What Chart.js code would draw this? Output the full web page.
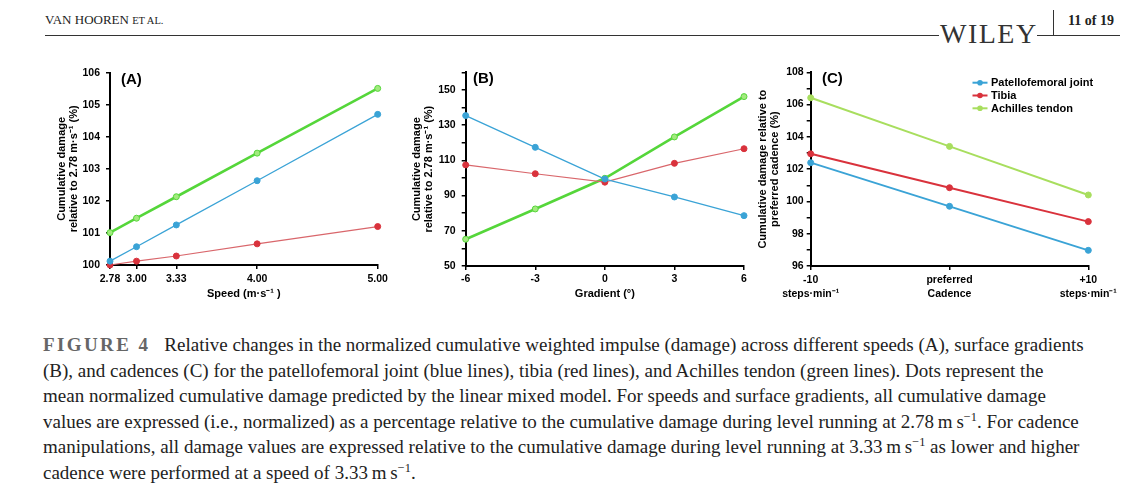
<!DOCTYPE html>
<html>
<head>
<meta charset="utf-8">
<script src="https://cdn.jsdelivr.net/npm/chart.js@4.4.0/dist/chart.umd.min.js"></script>
<style>
  body { margin: 0; background: #fff; width: 1140px; height: 490px; position: relative; overflow: hidden; }
  canvas { position: absolute; }
  .txt { position: absolute; white-space: nowrap; }
  .hdr { font-family: "Liberation Serif", serif; color: #222; }
  .rule { position: absolute; background: #333; }
  .plab { position: absolute; font: bold 15px "Liberation Sans", Arial, sans-serif; color: #000; }
  #caption { position: absolute; left: 43px; top: 332px; font-family: "Liberation Serif", serif; font-size: 19px; line-height: 25.6px; color: #222; white-space: nowrap; }
  #caption .fig { font-weight: bold; letter-spacing: 2.4px; color: #666; margin-right: 14px; }
  sup { font-size: 65%; line-height: 0; }
</style>
</head>
<body>
<div class="txt hdr" style="left:45px;top:12px;font-size:13px;">VAN HOOREN <span style="font-size:10.5px">ET AL.</span></div>
<div class="rule" style="left:45px;top:35px;width:894px;height:1px;"></div>
<div class="txt hdr" style="left:940px;top:18px;font-size:28px;letter-spacing:1.5px;color:#333;">WILEY</div>
<div class="rule" style="left:1037px;top:35px;width:83px;height:1px;"></div>
<div class="rule" style="left:1053px;top:10px;width:1px;height:25px;"></div>
<div class="txt hdr" style="left:1068px;top:13px;font-size:14px;font-weight:bold;">11 of 19</div>

<canvas id="chartA" width="360" height="250" style="left:40px;top:60px;"></canvas>
<canvas id="chartB" width="355" height="250" style="left:400px;top:60px;"></canvas>
<canvas id="chartC" width="390" height="250" style="left:750px;top:60px;"></canvas>
<div class="plab" style="left:121px;top:70px;">(A)</div>
<div class="plab" style="left:473px;top:69px;">(B)</div>
<div class="plab" style="left:822px;top:69px;">(C)</div>

<div id="caption"><span class="fig">FIGURE 4</span>Relative changes in the normalized cumulative weighted impulse (damage) across different speeds (A), surface gradients<br>(B), and cadences (C) for the patellofemoral joint (blue lines), tibia (red lines), and Achilles tendon (green lines). Dots represent the<br>mean normalized cumulative damage predicted by the linear mixed model. For speeds and surface gradients, all cumulative damage<br>values are expressed (i.e., normalized) as a percentage relative to the cumulative damage during level running at 2.78&#8201;m&#8201;s<sup>&minus;1</sup>. For cadence<br>manipulations, all damage values are expressed relative to the cumulative damage during level running at 3.33&#8201;m&#8201;s<sup>&minus;1</sup> as lower and higher<br>cadence were performed at a speed of 3.33&#8201;m&#8201;s<sup>&minus;1</sup>.</div>

<script>
// (A) speed
const speeds = [2.78, 3.00, 3.33, 4.00, 5.00];
const speedPF = [100.12, 100.57, 101.25, 102.63, 104.70];
const speedTibia = [100.0, 100.12, 100.28, 100.66, 101.20];
const speedAchilles = [101.01, 101.46, 102.13, 103.49, 105.51];
const speedYTicks = [100, 101, 102, 103, 104, 105, 106];

// (B) gradient
const gradients = [-6, -3, 0, 3, 6];
const gradPF = [135.4, 117.4, 99.4, 89.2, 78.6];
const gradTibia = [107.4, 102.4, 97.6, 108.3, 116.6];
const gradAchilles = [65.2, 82.4, 99.8, 123.3, 146.2];
const gradYTicks = [50, 60, 70, 80, 90, 100, 110, 120, 130, 140, 150, 160];
const gradYLabels = [50, 70, 90, 110, 130, 150];

// (C) cadence
const cadences = [["-10", "steps·min⁻¹"], ["preferred", "Cadence"], ["+10", "steps·min⁻¹"]];
const cadPF = [102.40, 99.70, 96.97];
const cadTibia = [102.95, 100.85, 98.75];
const cadAchilles = [106.42, 103.41, 100.40];
const cadYTicks = [96, 97, 98, 99, 100, 101, 102, 103, 104, 105, 106, 107, 108];
const cadYLabels = [96, 98, 100, 102, 104, 106, 108];

const seriesNames = ["Patellofemoral joint", "Tibia", "Achilles tendon"];

const blue = "#3aa3d6";
const red = "#d9323c";
const redThin = "#d9666b";
const green = "#55d63a";
const greenFill = "#a2ea7e";
const greenC = "#a8de5e";

const sansFont = "'Liberation Sans', Arial, sans-serif";
const tickFont = { family: sansFont, size: 10.5, weight: "bold" };
const titleFont = { family: sansFont, size: 11, weight: "bold", lineHeight: 1.1 };

const xy = (xs, ys) => xs.map((x, i) => ({ x: x, y: ys[i] }));

const lineSet = (label, data, color, width, fill, border) => ({
  label: label,
  data: data,
  borderColor: color,
  borderWidth: width,
  pointRadius: 3,
  pointHoverRadius: 3,
  pointBackgroundColor: fill || color,
  pointBorderColor: border || fill || color,
  pointBorderWidth: 1,
  tension: 0,
  clip: false,
});

const yAxis = (min, max, tickVals, labelVals, width, title, titlePad, tickPad) => ({
  min: min,
  max: max,
  afterBuildTicks: (s) => { s.ticks = tickVals.map((v) => ({ value: v })); },
  afterFit: (s) => { s.width = width; },
  border: { display: true, color: "#000", width: 2 },
  grid: { drawOnChartArea: false, drawTicks: true, tickLength: 4, color: "#000", lineWidth: 1.5 },
  ticks: {
    color: "#000",
    font: tickFont,
    padding: tickPad,
    callback: (v) => (labelVals.indexOf(v) >= 0 ? String(v) : ""),
  },
  title: { display: true, text: title, color: "#000", font: titleFont, padding: { top: titlePad, bottom: 0 } },
});

const xTitle = (text, pad) => ({
  display: true, text: text, color: "#000", font: titleFont, padding: { top: 0, bottom: pad },
});

const baseOptions = (pad, scales) => ({
  responsive: false,
  animation: false,
  layout: { padding: pad },
  plugins: { legend: { display: false }, tooltip: { enabled: false } },
  events: [],
  scales: scales,
});

// legend drawn inside panel C
const cadenceLegend = {
  id: "cadenceLegend",
  afterDraw(chart) {
    const ctx = chart.ctx;
    ctx.save();
    ctx.font = "bold 11px " + sansFont;
    ctx.textBaseline = "middle";
    chart.data.datasets.forEach((ds, i) => {
      const y = 22.7 + i * 12.8;
      ctx.strokeStyle = ds.borderColor;
      ctx.lineWidth = 2;
      ctx.beginPath();
      ctx.moveTo(222.5, y);
      ctx.lineTo(237.5, y);
      ctx.stroke();
      ctx.fillStyle = ds.pointBackgroundColor;
      ctx.beginPath();
      ctx.arc(230, y, 2.8, 0, Math.PI * 2);
      ctx.fill();
      ctx.fillStyle = "#000";
      ctx.fillText(ds.label, 241, y + 0.5);
    });
    ctx.restore();
  },
};

new Chart(document.getElementById("chartA"), {
  type: "line",
  data: {
    datasets: [
      lineSet(seriesNames[0], xy(speeds, speedPF), blue, 1.3),
      lineSet(seriesNames[1], xy(speeds, speedTibia), redThin, 1.2, red),
      lineSet(seriesNames[2], xy(speeds, speedAchilles), green, 2.6, greenFill, green),
    ],
  },
  options: baseOptions({ top: 12.7, right: 22.3, left: 0, bottom: 0 }, {
    x: {
      type: "linear",
      min: 2.78,
      max: 5.0,
      afterBuildTicks: (s) => { s.ticks = speeds.map((v) => ({ value: v })); },
      afterFit: (s) => { s.height = 45; },
      border: { display: true, color: "#000", width: 2 },
      grid: { drawOnChartArea: false, drawTicks: true, tickLength: 4, color: "#000", lineWidth: 1.5 },
      ticks: { color: "#000", font: tickFont, padding: 4, maxRotation: 0, callback: (v) => v.toFixed(2) },
      title: xTitle("Speed (m·s⁻¹ )", 9.5),
    },
    y: yAxis(100, 106, speedYTicks, speedYTicks, 70,
      ["Cumulative damage", "relative to 2.78 m·s⁻¹ (%)"], 15.6, 6),
  }),
});

new Chart(document.getElementById("chartB"), {
  type: "line",
  data: {
    datasets: [
      lineSet(seriesNames[0], xy(gradients, gradPF), blue, 1.3),
      lineSet(seriesNames[1], xy(gradients, gradTibia), redThin, 1.2, red),
      lineSet(seriesNames[2], xy(gradients, gradAchilles), green, 2.6, greenFill, green),
    ],
  },
  options: baseOptions({ top: 11.7, right: 11, left: 0, bottom: 0 }, {
    x: {
      type: "linear",
      min: -6,
      max: 6,
      afterBuildTicks: (s) => { s.ticks = gradients.map((v) => ({ value: v })); },
      afterFit: (s) => { s.height = 44; },
      border: { display: true, color: "#000", width: 2 },
      grid: { drawOnChartArea: false, drawTicks: true, tickLength: 4, color: "#000", lineWidth: 1.5 },
      ticks: { color: "#000", font: tickFont, padding: 2.5, maxRotation: 0 },
      title: xTitle("Gradient (°)", 10),
    },
    y: yAxis(50, 160, gradYTicks, gradYLabels, 65.7,
      ["Cumulative damage", "relative to 2.78 m·s⁻¹ (%)"], 10.7, 6),
  }),
});

new Chart(document.getElementById("chartC"), {
  type: "line",
  data: {
    labels: cadences,
    datasets: [
      lineSet(seriesNames[0], cadPF, blue, 1.8),
      lineSet(seriesNames[1], cadTibia, red, 2),
      lineSet(seriesNames[2], cadAchilles, greenC, 2),
    ],
  },
  options: baseOptions({ top: 12.3, right: 51.7, left: 0, bottom: 0 }, {
    x: {
      type: "category",
      offset: false,
      afterFit: (s) => { s.height = 44; },
      border: { display: true, color: "#000", width: 2 },
      grid: { drawOnChartArea: false, drawTicks: true, tickLength: 4, color: "#000", lineWidth: 1.5, offset: false },
      ticks: { color: "#000", font: { family: sansFont, size: 10.5, weight: "bold", lineHeight: 1.35 }, padding: 3, maxRotation: 0, autoSkip: false },
    },
    y: yAxis(96, 108, cadYTicks, cadYLabels, 60.7,
      ["Cumulative damage relative to", "preferred cadence (%)"], 7, 3),
  }),
  plugins: [cadenceLegend],
});
</script>
</body>
</html>
